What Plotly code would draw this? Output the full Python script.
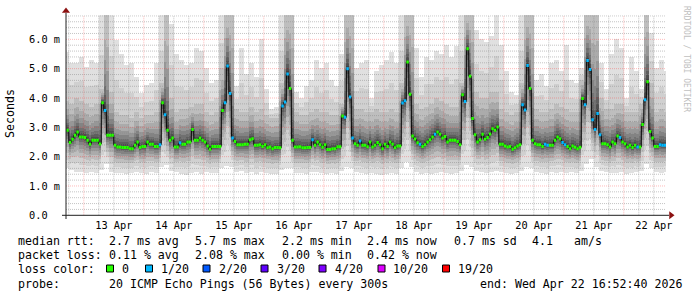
import plotly.graph_objects as go
import numpy as np
import pandas as pd

W, H = 697, 297

# ---------------- data ----------------
# hourly median RTT (ms) and lost pings (of 20), hours starting 2026-04-12 16:00
MED_START = "2026-04-12 16:00"
median_1h = [
    2.90, 2.90, 2.48, 2.59, 2.73, 2.84, 2.67, 2.67, 2.65, 2.56,
    2.42, 2.56, 2.56, 2.56, 2.43, 3.84, 3.57, 2.73, 2.73, 2.73,
    2.39, 2.33, 2.33, 2.31, 2.31, 2.31, 2.27, 2.27, 2.39, 2.50,
    2.31, 2.35, 2.35, 2.50, 2.42, 2.42, 2.35, 2.35, 2.41, 3.84,
    3.43, 2.90, 2.56, 2.64, 2.33, 2.33, 2.47, 2.42, 2.42, 2.50,
    2.50, 2.93, 2.56, 2.56, 2.64, 2.56, 2.50, 2.36, 2.25, 2.35,
    2.35, 2.35, 2.35, 3.57, 3.84, 5.09, 4.15, 2.64, 2.52, 2.41,
    2.41, 2.41, 2.42, 2.42, 2.58, 2.61, 2.39, 2.39, 2.41, 2.35,
    2.41, 2.30, 2.33, 2.27, 2.31, 2.31, 2.30, 3.73, 3.86, 4.82,
    4.32, 2.56, 2.33, 2.33, 2.34, 2.30, 2.30, 2.31, 2.31, 2.58,
    2.39, 2.50, 2.41, 2.32, 2.41, 2.24, 2.24, 2.27, 2.27, 2.34,
    2.34, 3.39, 3.34, 5.00, 4.03, 2.64, 2.44, 2.39, 2.53, 2.39,
    2.39, 2.34, 2.50, 2.33, 2.39, 2.48, 2.41, 2.27, 2.42, 2.35,
    2.50, 2.42, 2.30, 2.36, 2.36, 3.83, 3.91, 5.23, 4.13, 2.70,
    2.60, 2.47, 2.42, 2.35, 2.41, 2.50, 2.58, 2.67, 2.76, 2.84,
    2.76, 2.64, 2.69, 2.50, 2.56, 2.56, 2.56, 2.52, 2.41, 4.11,
    3.88, 5.68, 4.74, 3.30, 2.75, 2.50, 2.58, 2.76, 2.59, 2.65,
    2.77, 2.95, 2.90, 3.01, 2.42, 2.42, 2.36, 2.33, 2.35, 2.25,
    2.30, 2.36, 2.41, 3.77, 3.59, 5.11, 4.32, 2.56, 2.44, 2.41,
    2.41, 2.35, 2.42, 2.39, 2.39, 2.39, 2.56, 2.67, 2.61, 2.48,
    2.41, 2.35, 2.27, 2.36, 2.32, 2.27, 2.32, 3.98, 3.77, 5.28,
    4.97, 3.26, 2.93, 3.47, 2.75, 2.44, 2.44, 2.41, 2.33, 2.50,
    2.44, 2.70, 2.65, 2.50, 2.44, 2.33, 2.39, 2.31, 2.39, 2.33,
    2.33, 3.10, 3.94, 4.55, 2.86, 2.64, 2.35, 2.35, 2.41, 2.39,
    2.39,
]
loss_1h = [
    0, 0, 0, 0, 0, 0, 0, 0, 0, 0,
    0, 0, 0, 0, 0, 0, 1, 0, 0, 0,
    0, 0, 0, 0, 0, 0, 0, 0, 0, 0,
    0, 0, 0, 0, 0, 0, 0, 0, 1, 0,
    1, 0, 0, 0, 0, 0, 1, 0, 0, 0,
    0, 0, 0, 0, 0, 0, 0, 0, 0, 0,
    0, 0, 0, 0, 1, 1, 1, 1, 0, 0,
    0, 0, 0, 0, 0, 0, 0, 0, 0, 0,
    0, 0, 0, 0, 0, 0, 0, 1, 1, 1,
    0, 0, 0, 0, 0, 0, 0, 0, 0, 1,
    0, 0, 0, 0, 0, 0, 0, 0, 0, 0,
    0, 0, 1, 1, 1, 1, 0, 0, 1, 0,
    0, 0, 0, 0, 0, 0, 0, 0, 0, 0,
    0, 0, 0, 0, 0, 1, 1, 0, 0, 0,
    0, 0, 1, 0, 0, 0, 0, 0, 1, 0,
    0, 0, 0, 0, 0, 0, 0, 0, 0, 0,
    1, 0, 0, 0, 0, 0, 0, 0, 0, 0,
    0, 0, 0, 0, 0, 0, 0, 0, 0, 0,
    0, 0, 0, 1, 1, 1, 0, 0, 0, 0,
    0, 0, 1, 1, 0, 0, 0, 0, 0, 1,
    1, 0, 0, 0, 0, 0, 0, 0, 1, 1,
    1, 1, 1, 1, 1, 0, 0, 0, 0, 0,
    0, 0, 1, 0, 0, 0, 0, 0, 0, 1,
    0, 0, 1, 0, 0, 0, 0, 0, 1, 1,
    1,
]

# smoke envelope per 2-hour bin (ms), bins starting 2026-04-12 16:00
SMOKE_START = "2026-04-12 16:00"
smoke_hi_2h = [
    5.57, 5.20, 5.20, 5.40, 5.05, 5.28, 5.20, 6.90, 6.90, 6.90,
    5.97, 5.50, 5.10, 5.20, 4.70, 4.15, 4.43, 4.50, 5.20, 6.90,
    6.90, 6.50, 5.50, 5.30, 5.10, 5.20, 5.70, 5.60, 5.00, 4.50,
    4.60, 6.90, 6.90, 6.90, 4.40, 5.70, 4.80, 5.20, 4.70, 6.00,
    4.30, 3.60, 3.70, 6.90, 6.90, 6.90, 4.20, 4.00, 4.40, 4.60,
    5.30, 5.00, 5.20, 4.60, 4.40, 5.50, 6.90, 6.90, 5.00, 5.20,
    5.30, 4.00, 4.90, 5.10, 5.30, 5.57, 5.20, 6.90, 6.90, 6.00,
    5.70, 4.70, 5.40, 5.30, 5.60, 5.50, 5.80, 5.40, 5.75, 6.90,
    6.90, 6.90, 6.30, 6.00, 5.90, 6.10, 6.90, 5.80, 4.90, 4.20,
    4.10, 6.90, 6.90, 6.90, 4.60, 4.80, 4.40, 5.20, 5.30, 4.90,
    5.80, 4.60, 4.50, 5.00, 6.90, 6.90, 5.60, 5.20, 4.30, 5.50,
    6.00, 5.70, 4.00, 5.40, 4.90, 4.30, 6.90, 6.20, 5.00, 5.30,
    4.90,
]
smoke_mid_2h = [
    3.9, 3.8, 4.0, 3.9, 3.8, 3.7, 3.8, 4.3, 6.9, 4.2,
    3.5, 3.4, 3.4, 3.3, 3.5, 3.3, 3.4, 3.4, 3.5, 4.5,
    6.9, 4.0, 3.5, 3.6, 3.6, 3.7, 3.8, 3.8, 3.5, 3.4,
    3.5, 5.0, 6.9, 6.9, 3.6, 3.5, 3.5, 3.7, 3.5, 3.6,
    3.4, 3.3, 3.3, 4.5, 6.9, 6.9, 3.5, 3.4, 3.4, 3.5,
    3.6, 3.5, 3.5, 3.4, 3.4, 3.8, 6.9, 6.9, 3.6, 3.6,
    3.5, 3.5, 3.6, 3.5, 3.5, 3.6, 3.5, 4.5, 6.9, 6.9,
    3.8, 3.6, 3.7, 3.8, 4.0, 3.9, 3.8, 3.7, 3.7, 4.5,
    6.9, 6.9, 4.2, 4.0, 4.0, 4.2, 4.2, 3.6, 3.5, 3.4,
    3.5, 4.5, 6.9, 6.9, 3.6, 3.5, 3.5, 3.6, 3.8, 3.7,
    3.6, 3.5, 3.5, 4.6, 6.9, 6.9, 6.9, 4.0, 3.6, 3.6,
    3.8, 3.8, 3.5, 3.5, 3.5, 3.8, 6.9, 4.5, 3.5, 3.6,
    3.5,
]
smoke_lo_2h = [
    1.60, 1.55, 1.48, 1.45, 1.42, 1.45, 1.42, 1.55, 1.75, 1.45,
    1.42, 1.42, 1.40, 1.42, 1.45, 1.42, 1.40, 1.45, 1.42, 1.65,
    1.70, 1.50, 1.45, 1.40, 1.38, 1.42, 1.45, 1.40, 1.45, 1.42,
    1.42, 1.60, 1.68, 1.65, 1.45, 1.50, 1.42, 1.45, 1.40, 1.45,
    1.42, 1.40, 1.40, 1.55, 1.60, 1.60, 1.42, 1.42, 1.40, 1.45,
    1.45, 1.42, 1.40, 1.42, 1.40, 1.50, 1.62, 1.60, 1.45, 1.42,
    1.40, 1.42, 1.40, 1.38, 1.40, 1.42, 1.40, 1.60, 1.80, 1.65,
    1.45, 1.40, 1.42, 1.40, 1.42, 1.45, 1.42, 1.40, 1.42, 1.50,
    1.70, 1.62, 1.50, 1.45, 1.42, 1.45, 1.50, 1.45, 1.42, 1.40,
    1.42, 1.50, 1.62, 1.60, 1.45, 1.42, 1.40, 1.45, 1.42, 1.45,
    1.42, 1.45, 1.42, 1.50, 1.75, 1.90, 1.65, 1.50, 1.45, 1.42,
    1.42, 1.45, 1.40, 1.42, 1.45, 1.50, 1.75, 1.60, 1.45, 1.42,
    1.45,
]

day_labels = ["13 Apr", "14 Apr", "15 Apr", "16 Apr", "17 Apr",
              "18 Apr", "19 Apr", "20 Apr", "21 Apr", "22 Apr"]
y_ticks = [0, 1, 2, 3, 4, 5, 6]
y_ticktext = ["0.0", "1.0 m", "2.0 m", "3.0 m", "4.0 m", "5.0 m", "6.0 m"]

loss_levels = ["0", "1/20", "2/20", "3/20", "4/20", "10/20", "19/20"]
loss_colors = ["#26ff00", "#00b8ff", "#0059ff", "#5e00ff", "#7e00ff", "#dd00ff", "#ff0000"]

legend_rtt = ["2.7 ms avg", "5.7 ms max", "2.2 ms min", "2.4 ms now", "0.7 ms sd", "4.1", "am/s"]
legend_loss = ["0.11 % avg", "2.08 % max", "0.00 % min", "0.42 % now"]
probe_text = "20 ICMP Echo Pings (56 Bytes) every 300s"
end_text = "end: Wed Apr 22 16:52:40 2026"

T_START = pd.Timestamp("2026-04-12 16:52:40")
T_END = pd.Timestamp("2026-04-22 16:52:40")
Y_MAX = 6.82

assert len(median_1h) == len(loss_1h)
assert len(smoke_hi_2h) == len(smoke_mid_2h) == len(smoke_lo_2h)

# ---------------- geometry (pixels) ----------------
PX_L, PX_R = 66.0, 666.0
PY_BOT, PY_TOP = 215.3, 15.3
MONO = "DejaVu Sans Mono"

n = len(median_1h)
t_med = pd.Timestamp(MED_START)
edges = [t_med + pd.Timedelta(hours=i) for i in range(n + 1)]
centers = [e + pd.Timedelta(minutes=30) for e in edges[:-1]]

# map each hour to its 2-hour smoke bin
t_smoke = pd.Timestamp(SMOKE_START)
sidx = [min(int((e - t_smoke) / pd.Timedelta(hours=2)), len(smoke_hi_2h) - 1) for e in edges[:-1]]

med = np.array(median_1h)
lo = np.array(smoke_lo_2h)[sidx]
mid = np.maximum(np.array(smoke_mid_2h)[sidx], med + 0.3)
hi = np.maximum(np.array(smoke_hi_2h)[sidx], mid)

fig = go.Figure()

# smoke: nested bands, darker toward the median
low_frac = [0.0, 0.22, 0.40, 0.54, 0.66, 0.76, 0.84, 0.90, 0.945, 0.975]
up_frac = [None, None, None, 0.72, 0.52, 0.37, 0.25, 0.16, 0.09, 0.04]
band_colors = ["#e0e0e0", "#d0d0d0", "#bebebe", "#ababab", "#979797",
               "#838383", "#707070", "#5e5e5e", "#4e4e4e", "#404040"]
for j in range(10):
    bottom = lo + (med - lo) * low_frac[j]
    if j == 0:
        top = hi
    elif j == 1:
        top = mid + (hi - mid) * 0.45
    elif j == 2:
        top = mid
    else:
        top = med + (mid - med) * up_frac[j]
    fig.add_trace(go.Bar(
        x=centers, y=top - bottom, base=bottom, width=3600 * 1000,
        marker=dict(color=band_colors[j], line=dict(width=0)),
        hoverinfo="skip", showlegend=False))

# grid (drawn above the smoke, like rrdtool)
def hlines(vals):
    xs, ys = [], []
    for v in vals:
        xs += [T_START, T_END, None]
        ys += [v, v, None]
    return xs, ys

def vlines(times):
    xs, ys = [], []
    for t in times:
        xs += [t, t, None]
        ys += [0, Y_MAX, None]
    return xs, ys

minor_y = [round(v, 1) for v in np.arange(0.2, Y_MAX, 0.2) if abs(v - round(v)) > 1e-6]
major_y = [1, 2, 3, 4, 5, 6]
six_h = pd.date_range("2026-04-12 18:00", "2026-04-22 12:00", freq="6h")
minor_x = [t for t in six_h if t.hour != 0]
major_x = [t for t in six_h if t.hour == 0]

for (xs, ys), col in [(hlines(minor_y), "rgba(140,140,140,0.5)"),
                      (vlines(minor_x), "rgba(140,140,140,0.5)"),
                      (hlines(major_y), "rgba(255,40,40,0.32)"),
                      (vlines(major_x), "rgba(255,40,40,0.32)")]:
    fig.add_trace(go.Scatter(x=xs, y=ys, mode="lines",
                             line=dict(color=col, width=1, dash="1px,1px"),
                             hoverinfo="skip", showlegend=False))

# median line (thin black step) and loss-coloured segments
fig.add_trace(go.Scatter(x=edges, y=list(median_1h) + [median_1h[-1]], mode="lines",
                         line=dict(color="#000000", width=1, shape="hv"),
                         hoverinfo="skip", showlegend=False))
for lvl, col in enumerate(loss_colors[:2]):
    xs, ys = [], []
    for i in range(n):
        if loss_1h[i] == lvl:
            xs += [edges[i], edges[i + 1], None]
            ys += [median_1h[i], median_1h[i], None]
    fig.add_trace(go.Scatter(x=xs, y=ys, mode="lines",
                             line=dict(color=col, width=3),
                             hoverinfo="skip", showlegend=False))

# ---------------- overlay (pixel space) for axes, arrows & legend boxes ----------------
fig.add_trace(go.Scatter(x=[62, 669, None, PX_L, PX_L], y=[PY_BOT, PY_BOT, None, 219, 13],
                         mode="lines", line=dict(color="#202020", width=1),
                         xaxis="x2", yaxis="y2", hoverinfo="skip", showlegend=False))
fig.add_trace(go.Scatter(x=[671, PX_L], y=[PY_BOT, 11],
                         mode="markers",
                         marker=dict(symbol=["triangle-right", "triangle-up"], size=7,
                                     color="#8b1010", line=dict(width=0)),
                         xaxis="x2", yaxis="y2", hoverinfo="skip", showlegend=False))

box_left = [106.5, 145.5, 203.0, 261.0, 319.0, 378.0, 442.5]
box_x = [b + 3.5 for b in box_left]
label_x = [b + 13.5 for b in box_left]
fig.add_trace(go.Scatter(x=box_x, y=[268.5] * len(box_x), mode="markers",
                         marker=dict(symbol="square", size=7, color=loss_colors,
                                     line=dict(color="#000000", width=1)),
                         xaxis="x2", yaxis="y2", hoverinfo="skip", showlegend=False))

# ---------------- text ----------------
def px_x(x):
    return x / W

def px_y(y):
    return 1 - y / H

def nb(s):
    return s.replace(" ", "\u00a0")

ann = []
def txt(x, y, s, size=11.6, color="#000000", anchor="left", angle=0, yanchor="middle"):
    ann.append(dict(x=px_x(x), y=px_y(y), xref="paper", yref="paper", text=nb(s),
                    showarrow=False, xanchor=anchor, yanchor=yanchor, textangle=angle,
                    font=dict(family=MONO, size=size, color=color)))

rtt_x = [107, 193.3, 280, 365, 451.7, 530, 572.3]
txt(16, 241, "median rtt:")
for s, x in zip(legend_rtt, rtt_x):
    txt(x, 241, s)
txt(16, 255, "packet loss:")
for s, x in zip(legend_loss, rtt_x):
    txt(x, 255, s)
txt(16, 269, "loss color:")
for s, x in zip(loss_levels, label_x):
    txt(x, 269, s)
txt(16, 284, "probe:")
txt(107, 284, probe_text)
txt(478.3, 284, end_text)

txt(10, 114, "Seconds", anchor="center", angle=-90)
txt(686, 59, "RRDTOOL / TOBI OETIKER", size=8, color="#c0c0c0", anchor="center", angle=90)

noon = [pd.Timestamp("2026-04-13 12:00") + pd.Timedelta(days=i) for i in range(len(day_labels))]
# left-align the y labels (rrdtool style) by padding to equal width
width_max = max(len(s) for s in y_ticktext)
y_ticktext_padded = [s + "\u00a0" * (width_max - len(s)) for s in y_ticktext]

fig.update_layout(
    width=W, height=H, margin=dict(l=0, r=0, t=0, b=0, pad=0, autoexpand=False),
    paper_bgcolor="#ffffff", plot_bgcolor="rgba(0,0,0,0)",
    barmode="overlay", bargap=0, showlegend=False,
    annotations=ann,
    xaxis=dict(type="date", domain=[PX_L / W, PX_R / W], range=[T_START, T_END],
               showgrid=False, zeroline=False, showline=False, automargin=False,
               tickmode="array", tickvals=noon, ticktext=day_labels, ticks="",
               tickfont=dict(family=MONO, size=10.3, color="#000000"),
               ticklabelstandoff=2, fixedrange=True),
    yaxis=dict(domain=[1 - PY_BOT / H, 1 - PY_TOP / H], range=[0, Y_MAX],
               showgrid=False, zeroline=False, showline=False, automargin=False,
               tickmode="array", tickvals=y_ticks, ticktext=y_ticktext_padded, ticks="",
               tickfont=dict(family=MONO, size=10.3, color="#000000"),
               ticklabelstandoff=5, fixedrange=True),
    xaxis2=dict(domain=[0, 1], range=[0, W], visible=False, anchor="y2",
                fixedrange=True, automargin=False),
    yaxis2=dict(domain=[0, 1], range=[H, 0], visible=False, anchor="x2",
                fixedrange=True, automargin=False),
)

fig.write_html("out.html")
